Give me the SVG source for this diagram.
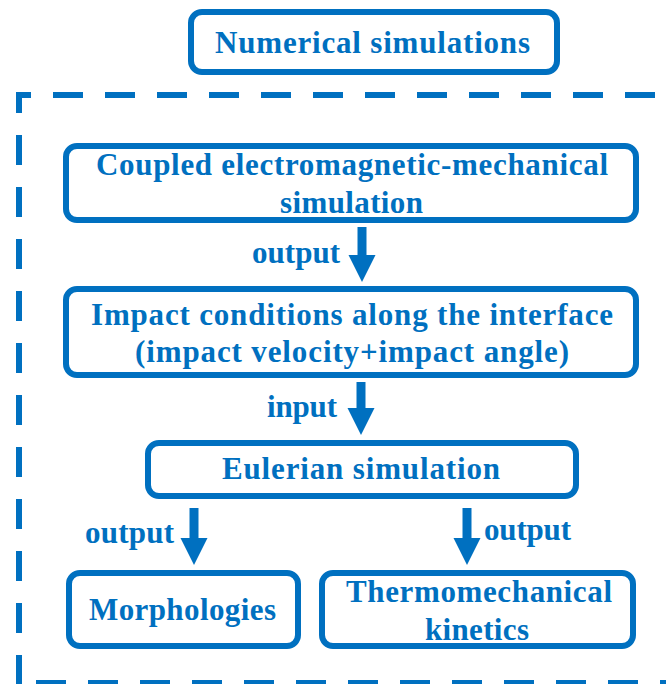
<svg xmlns="http://www.w3.org/2000/svg" width="666" height="684" viewBox="0 0 666 684">
<style>
.box{fill:#fff;stroke:#0070C0;stroke-width:6}
.frame{fill:none;stroke:#0070C0;stroke-width:6;stroke-dasharray:30 22;stroke-linecap:butt;stroke-linejoin:miter}
.t{font-family:'Liberation Serif','Times New Roman',serif;font-weight:700;font-size:31px;fill:#0070C0}
.arr{stroke:#0070C0;stroke-width:9;fill:none}
</style>
<defs>
<marker id="head" markerUnits="userSpaceOnUse" markerWidth="28" markerHeight="28" refX="0" refY="13.5" orient="auto" viewBox="0 0 28 28">
<path d="M0,0 L27,13.5 L0,27 Z" fill="#0070C0"/>
</marker>
</defs>
<g id="frame">
<path class="frame" d="M31,95 L19,95 L19,700"/>
<path class="frame" d="M53,95 L680,95"/>
<path class="frame" d="M36,683 L680,683"/>
</g>
<g id="n-numerical">
<rect class="box" x="191" y="12" width="366" height="60" rx="11"/>
<text class="t" x="215" y="53" textLength="315" lengthAdjust="spacing">Numerical simulations</text>
</g>
<g id="n-coupled">
<rect class="box" x="66" y="146" width="570" height="74" rx="11"/>
<text class="t" x="96" y="175" textLength="512" lengthAdjust="spacing">Coupled electromagnetic-mechanical</text>
<text class="t" x="280" y="213" textLength="143" lengthAdjust="spacing">simulation</text>
</g>
<g id="n-impact">
<rect class="box" x="66" y="289" width="570" height="86" rx="11"/>
<text class="t" x="91" y="325" textLength="522" lengthAdjust="spacing">Impact conditions along the interface</text>
<text class="t" x="135" y="362" textLength="434" lengthAdjust="spacing">(impact velocity+impact angle)</text>
</g>
<g id="n-eulerian">
<rect class="box" x="148" y="443" width="428" height="53" rx="11"/>
<text class="t" x="222" y="479" textLength="278" lengthAdjust="spacing">Eulerian simulation</text>
</g>
<g id="n-morph">
<rect class="box" x="69" y="573" width="229" height="73" rx="11"/>
<text class="t" x="89" y="620" textLength="187" lengthAdjust="spacing">Morphologies</text>
</g>
<g id="n-thermo">
<rect class="box" x="322" y="573" width="311" height="73" rx="11"/>
<text class="t" x="346" y="602" textLength="266" lengthAdjust="spacing">Thermomechanical</text>
<text class="t" x="425" y="640" textLength="104" lengthAdjust="spacing">kinetics</text>
</g>
<g id="connectors">
<line class="arr" x1="362" y1="227" x2="362" y2="255" marker-end="url(#head)"/>
<text class="t" x="252" y="263" textLength="88" lengthAdjust="spacing">output</text>
<line class="arr" x1="361" y1="382" x2="361" y2="408" marker-end="url(#head)"/>
<text class="t" x="267" y="417" textLength="70" lengthAdjust="spacing">input</text>
<line class="arr" x1="194" y1="508" x2="194" y2="538" marker-end="url(#head)"/>
<text class="t" x="85" y="543" textLength="89" lengthAdjust="spacing">output</text>
<line class="arr" x1="467" y1="508" x2="467" y2="538" marker-end="url(#head)"/>
<text class="t" x="484" y="540" textLength="87" lengthAdjust="spacing">output</text>
</g>
</svg>
